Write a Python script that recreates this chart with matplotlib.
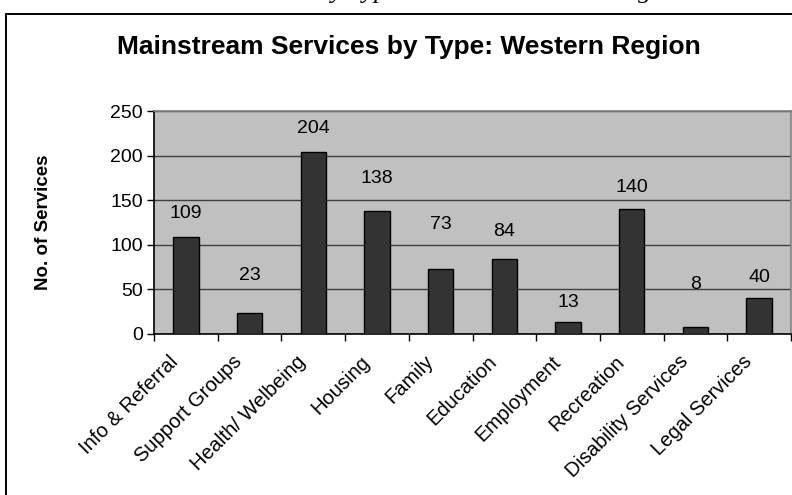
import matplotlib
matplotlib.use("Agg")
import matplotlib.pyplot as plt
from matplotlib.patches import Rectangle
from matplotlib.ticker import FixedLocator, NullFormatter
from matplotlib.transforms import ScaledTranslation

categories = ["Info & Referral", "Support Groups", "Health/ Welbeing", "Housing",
              "Family", "Education", "Employment", "Recreation",
              "Disability Services", "Legal Services"]
services = [109, 23, 204, 138, 73, 84, 13, 140, 8, 40]
y_ticks = [0, 50, 100, 150, 200, 250]

# vertical gap (pixels) between each bar top and its value label
label_gap_px = [23, 38, 24, 32, 44, 28, 20, 22, 42, 21]

W, H, DPI = 792, 495, 100
plt.rcParams["font.family"] = ["Liberation Sans", "DejaVu Sans"]

fig = plt.figure(figsize=(W / DPI, H / DPI), dpi=DPI)
fig.patch.set_facecolor("white")

def fx(px):
    return px / W

def fy(py):
    return 1 - py / H

# caption of the page, mostly cut off above the chart frame
fig.text(fx(90), fy(-2), "Mainstream Services by Type across the Western Region",
         family=["Liberation Serif", "DejaVu Serif"], style="italic",
         fontsize=19, ha="left", va="baseline")

# chart frame
fig.patches.append(Rectangle((fx(6), fy(520)), fx(820), fy(14) - fy(520),
                             transform=fig.transFigure, fill=False,
                             edgecolor="black", linewidth=1.4, zorder=0))

ax = fig.add_axes([fx(154), fy(334), fx(791 - 154), (334 - 111) / H])
ax.set_facecolor("#C0C0C0")

x = list(range(len(categories)))
ax.bar(x, services, width=0.4, color="#333333", edgecolor="black",
       linewidth=1.0, zorder=3)

for xi, v, gap in zip(x, services, label_gap_px):
    ax.annotate(str(v), (xi, v), xytext=(0, gap * 72 / DPI),
                textcoords="offset points", ha="center", va="center",
                fontsize=14, color="black", zorder=4, annotation_clip=False)

ax.set_xlim(-0.5, len(categories) - 0.5)
ax.set_ylim(0, 250)
ax.set_yticks(y_ticks)
ax.yaxis.grid(True, color="#404040", linewidth=1.0, zorder=1)
ax.set_axisbelow(True)
ax.tick_params(axis="y", labelsize=14, length=5, width=1.0, direction="out",
               pad=3, colors="black")

# category ticks sit between the bars; labels sit under each bar
ax.xaxis.set_major_locator(FixedLocator(x))
ax.set_xticklabels(categories)
ax.xaxis.set_minor_locator(FixedLocator([i - 0.5 for i in range(len(categories) + 1)]))
ax.xaxis.set_minor_formatter(NullFormatter())
ax.tick_params(axis="x", which="major", length=0, pad=13, labelsize=14.5)
ax.tick_params(axis="x", which="minor", length=5, width=1.0, direction="out",
               color="black")
shift = ScaledTranslation(-17 / DPI, 0, fig.dpi_scale_trans)
for lbl in ax.get_xticklabels():
    lbl.set_rotation(45)
    lbl.set_ha("right")
    lbl.set_va("top")
    lbl.set_rotation_mode("anchor")
    lbl.set_transform(lbl.get_transform() + shift)

for side in ("top", "right"):
    ax.spines[side].set_color("#808080")
    ax.spines[side].set_linewidth(1.2)
for side in ("left", "bottom"):
    ax.spines[side].set_color("black")
    ax.spines[side].set_linewidth(1.2)

fig.text(fx(409), fy(47), "Mainstream Services by Type: Western Region",
         fontsize=19, fontweight="bold", ha="center", va="center")
fig.text(fx(43), fy(222), "No. of Services", fontsize=13.5, fontweight="bold",
         rotation=90, ha="center", va="center")

fig.savefig("out.png", dpi=DPI)
